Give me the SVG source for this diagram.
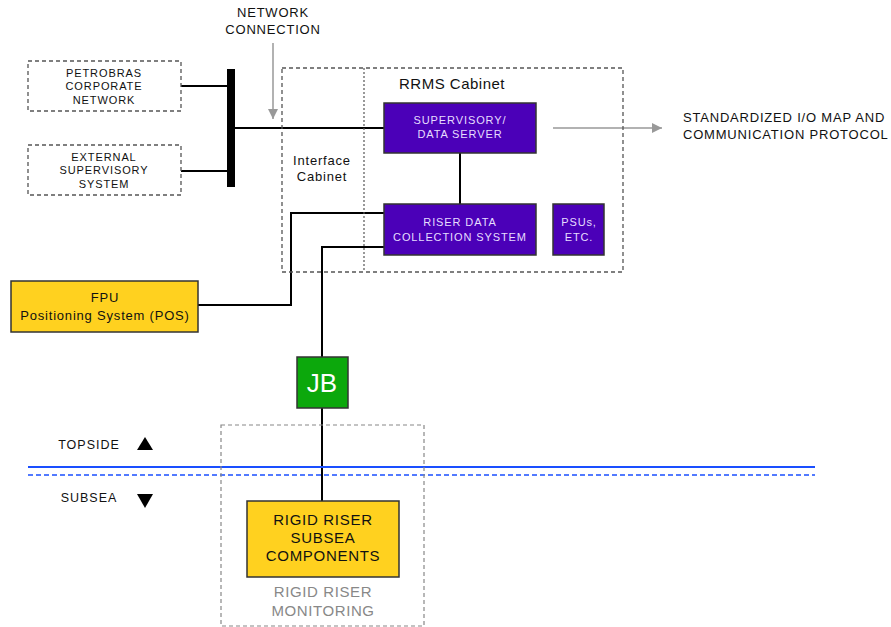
<svg xmlns="http://www.w3.org/2000/svg" width="891" height="627" viewBox="0 0 891 627">
<style>
text{font-family:"Liberation Sans",Arial,sans-serif;text-anchor:middle}
.dash{fill:none;stroke:#555;stroke-width:1.3;stroke-dasharray:4,3}
.dashl{fill:none;stroke:#888;stroke-width:1.2;stroke-dasharray:4,3}
.purple{fill:#4B00B8;stroke:#333;stroke-width:1.5}
.yellow{fill:#FFD11F;stroke:#333;stroke-width:1.5}
.green{fill:#0CA80C;stroke:#333;stroke-width:1.5}
.wire{fill:none;stroke:#000;stroke-width:2}
.gray{fill:none;stroke:#999;stroke-width:1.5}
.s{font-size:11px;fill:#111;letter-spacing:0.9px}
.w{font-size:11px;fill:#E6DDFF;letter-spacing:0.9px}
.m{font-size:13px;fill:#111;letter-spacing:0.8px}
.l{font-size:15px;fill:#111;letter-spacing:0.7px}
</style>
<defs>
<marker id="ga" viewBox="0 0 10 10" refX="10" refY="5" markerWidth="12" markerHeight="10" markerUnits="userSpaceOnUse" orient="auto"><path d="M0,0 L10,5 L0,10 z" fill="#999"/></marker>
</defs>
<g id="connectors">
<rect x="227" y="69" width="8" height="118" fill="#000"/>
<line class="wire" x1="181" y1="86" x2="228" y2="86"/>
<line class="wire" x1="181" y1="171" x2="228" y2="171"/>
<line class="wire" x1="235" y1="128" x2="384" y2="128"/>
<line class="wire" x1="460" y1="153" x2="460" y2="204"/>
<polyline class="wire" points="384,213 291,213 291,305 198,305"/>
<polyline class="wire" points="384,247 322,247 322,357"/>
<line class="wire" x1="322" y1="408" x2="322" y2="501"/>
<line class="gray" x1="273" y1="43" x2="273" y2="119" marker-end="url(#ga)"/>
<line class="gray" x1="553" y1="128" x2="662" y2="128" marker-end="url(#ga)"/>
</g>
<g id="waterline">
<line x1="28" y1="467" x2="815" y2="467" stroke="#1a4fff" stroke-width="1.8"/>
<line x1="28" y1="475" x2="815" y2="475" stroke="#1a4fff" stroke-width="1.3" stroke-dasharray="5,3"/>
</g>
<g id="network-connection"><text class="m" x="273" y="17">NETWORK</text><text class="m" x="273" y="34">CONNECTION</text></g>
<g id="petrobras"><rect class="dash" x="28" y="61" width="153" height="50"/><text class="s" x="104" y="77">PETROBRAS</text><text class="s" x="104" y="90">CORPORATE</text><text class="s" x="104" y="104">NETWORK</text></g>
<g id="external"><rect class="dash" x="28" y="145" width="153" height="50"/><text class="s" x="104" y="161">EXTERNAL</text><text class="s" x="104" y="174">SUPERVISORY</text><text class="s" x="104" y="188">SYSTEM</text></g>
<g id="rrms-cabinet"><rect class="dash" x="282" y="68" width="341" height="204"/><line x1="364" y1="68" x2="364" y2="272" stroke="#555" stroke-width="1.2" stroke-dasharray="2,2"/><text class="l" x="452" y="89" style="letter-spacing:0.5px">RRMS Cabinet</text></g>
<g id="interface-cabinet"><text class="m" x="322" y="165">Interface</text><text class="m" x="322" y="181">Cabinet</text></g>
<g id="supervisory"><rect class="purple" x="384" y="103" width="152" height="50"/><text class="w" x="460" y="124">SUPERVISORY/</text><text class="w" x="460" y="138">DATA SERVER</text></g>
<g id="riser-data"><rect class="purple" x="384" y="204" width="152" height="51"/><text class="w" x="460" y="226">RISER DATA</text><text class="w" x="460" y="241">COLLECTION SYSTEM</text></g>
<g id="psus"><rect class="purple" x="553" y="204" width="51" height="51"/><text class="w" x="579" y="226">PSUs,</text><text class="w" x="579" y="241">ETC.</text></g>
<g id="standardized"><text class="m" x="683" y="122" style="text-anchor:start">STANDARDIZED I/O MAP AND</text><text class="m" x="683" y="139" style="text-anchor:start">COMMUNICATION PROTOCOL</text></g>
<g id="fpu"><rect class="yellow" x="11" y="281" width="187" height="51"/><text class="m" x="105" y="302">FPU</text><text class="m" x="105" y="320">Positioning System (POS)</text></g>
<g id="jb"><rect class="green" x="297" y="357" width="51" height="51"/><text x="322" y="392" style="font-size:26px;fill:#fff">JB</text></g>
<g id="topside"><text class="m" x="89" y="449" style="font-size:12.5px;letter-spacing:1px">TOPSIDE</text><path d="M137,450 L145,437 L153,450 z" fill="#000"/></g>
<g id="subsea"><text class="m" x="89" y="502" style="font-size:12.5px;letter-spacing:1px">SUBSEA</text><path d="M137,494 L153,494 L145,508 z" fill="#000"/></g>
<g id="rigid-riser-monitoring"><rect class="dashl" x="221" y="425" width="203" height="201"/><text class="l" x="323" y="597" style="fill:#888;letter-spacing:0.6px">RIGID RISER</text><text class="l" x="323" y="616" style="fill:#888;letter-spacing:0.6px">MONITORING</text></g>
<g id="rigid-riser-subsea"><rect class="yellow" x="247" y="501" width="152" height="76"/><text class="l" x="323" y="525">RIGID RISER</text><text class="l" x="323" y="543">SUBSEA</text><text class="l" x="323" y="561">COMPONENTS</text></g>
</svg>
